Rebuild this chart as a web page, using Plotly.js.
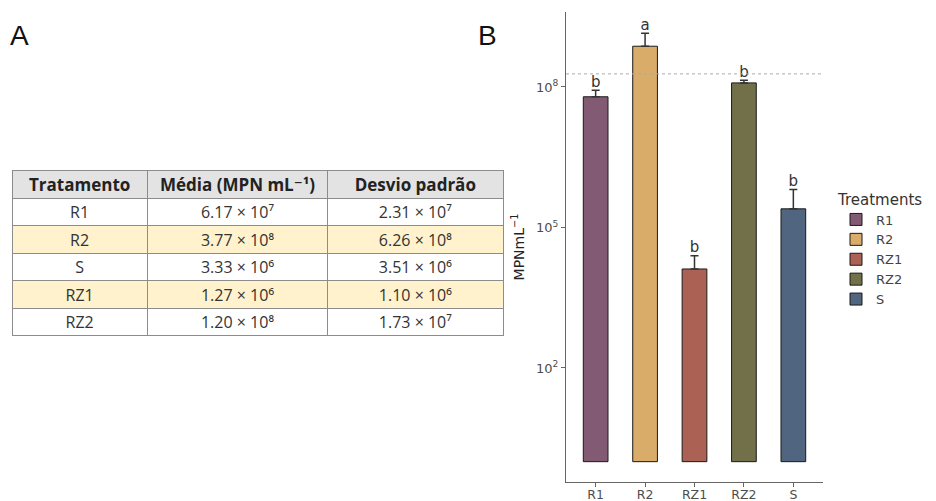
<!DOCTYPE html>
<html>
<head>
<meta charset="utf-8">
<script src="https://cdn.plot.ly/plotly-3.0.1.min.js"></script>
<style>html,body{margin:0;padding:0;background:#fff;}#chart{width:936px;height:501px;}</style>
</head>
<body>
<div id="chart"></div>
<script>
// Table (panel A)
const tableHeader = ["Tratamento", "Média (MPN mL⁻¹)", "Desvio padrão"];
const tableTreat = ["R1", "R2", "S", "RZ1", "RZ2"];
const tableMean = ["6.17 × 10⁷", "3.77 × 10⁸", "3.33 × 10⁶", "1.27 × 10⁶", "1.20 × 10⁸"];
const tableSd = ["2.31 × 10⁷", "6.26 × 10⁸", "3.51 × 10⁶", "1.10 × 10⁶", "1.73 × 10⁷"];
const rowFills = ["#ffffff", "#fff2cc", "#ffffff", "#fff2cc", "#ffffff"];

// Bar chart (panel B)
const categories = ["R1", "R2", "RZ1", "RZ2", "S"];
const means = [6.17e7, 7.4e8, 1.3e4, 1.22e8, 2.5e5];
const errUp = [2.31e7, 6.6e8, 1.2e4, 1.7e7, 4.0e5];
const letters = ["b", "a", "b", "b", "b"];
const colors = ["#835a73", "#d9ac69", "#ab6153", "#717048", "#50657f"];
const refLine = 1.9e8;
const yTickVals = [1e2, 1e5, 1e8];
const yTickText = ["10<sup>2</sup>", "10<sup>5</sup>", "10<sup>8</sup>"];

const W = 936, H = 501;
const traces = [];
traces.push({
  type: "table",
  domain: {x: [12/W, 503/W], y: [1 - 340/H, 1 - 170/H]},
  columnwidth: [135, 180, 175],
  header: {
    values: tableHeader,
    fill: {color: "#e3e3e3"},
    line: {color: "#8c8c8c", width: 1},
    font: {family: "Open Sans, DejaVu Sans", size: 17, color: "#222", weight: "bold"},
    align: "center",
    height: 28
  },
  cells: {
    values: [tableTreat, tableMean, tableSd],
    fill: {color: [rowFills, rowFills, rowFills]},
    line: {color: "#8c8c8c", width: 1},
    font: {family: "Open Sans, DejaVu Sans", size: 16, color: "#333"},
    align: "center",
    height: 27.6
  }
});

categories.forEach((c, i) => {
  traces.push({
    type: "bar",
    x: [c],
    y: [means[i] - 1],
    base: [1],
    name: c,
    width: 0.5,
    marker: {color: colors[i], line: {color: "#1a1a1a", width: 1}},
    error_y: {type: "data", symmetric: false, array: [errUp[i]], arrayminus: [0], color: "#333", thickness: 1.5, width: 4},
    hoverinfo: "skip"
  });
});

traces.push({
  type: "scatter",
  mode: "text",
  x: categories,
  y: means.map((m, i) => m + errUp[i]),
  text: letters,
  textposition: "top center",
  textfont: {family: "DejaVu Sans", size: 15, color: "#333"},
  showlegend: false,
  hoverinfo: "skip"
});

const layout = {
  width: W, height: H,
  margin: {l: 0, r: 0, t: 0, b: 0},
  paper_bgcolor: "#fff", plot_bgcolor: "#fff",
  barmode: "overlay",
  font: {family: "DejaVu Sans", color: "#4d4d4d"},
  xaxis: {
    domain: [566/W, 823/W],
    type: "category", range: [-0.6, 4.6],
    showline: true, linecolor: "#666", linewidth: 1.2,
    ticks: "outside", ticklen: 4, tickcolor: "#666",
    ticklabelstandoff: -3,
    tickfont: {size: 12.5, color: "#4d4d4d"}, showgrid: false, zeroline: false
  },
  yaxis: {
    domain: [1 - 482/H, 1 - 12/H],
    type: "log", range: [-0.434, 9.6],
    showline: true, linecolor: "#666", linewidth: 1.2,
    ticks: "outside", ticklen: 4, tickcolor: "#666",
    tickvals: yTickVals, ticktext: yTickText,
    tickfont: {size: 13, color: "#4d4d4d"}, showgrid: false, zeroline: false,
    title: {text: "MPNmL<sup>−1</sup>", font: {size: 14, color: "#222"}, standoff: 8}
  },
  shapes: [{
    type: "line", xref: "x domain", x0: 0, x1: 1, yref: "y", y0: refLine, y1: refLine,
    line: {color: "#aaa", width: 1, dash: "dot"}
  }],
  legend: {
    x: 836/W, xanchor: "left", y: 1 - 185/H, yanchor: "top",
    title: {text: "Treatments", font: {size: 15, color: "#333"}},
    font: {size: 13, color: "#444"},
    tracegroupgap: 0, itemwidth: 30
  },
  annotations: [
    {text: "A", xref: "paper", yref: "paper", x: 8/W, y: 1 - 18/H, xanchor: "left", yanchor: "top", showarrow: false, font: {family: "Liberation Sans", size: 28, color: "#111"}},
    {text: "B", xref: "paper", yref: "paper", x: 476/W, y: 1 - 18/H, xanchor: "left", yanchor: "top", showarrow: false, font: {family: "Liberation Sans", size: 28, color: "#111"}}
  ]
};

Plotly.newPlot("chart", traces, layout, {displayModeBar: false});
</script>
</body>
</html>
